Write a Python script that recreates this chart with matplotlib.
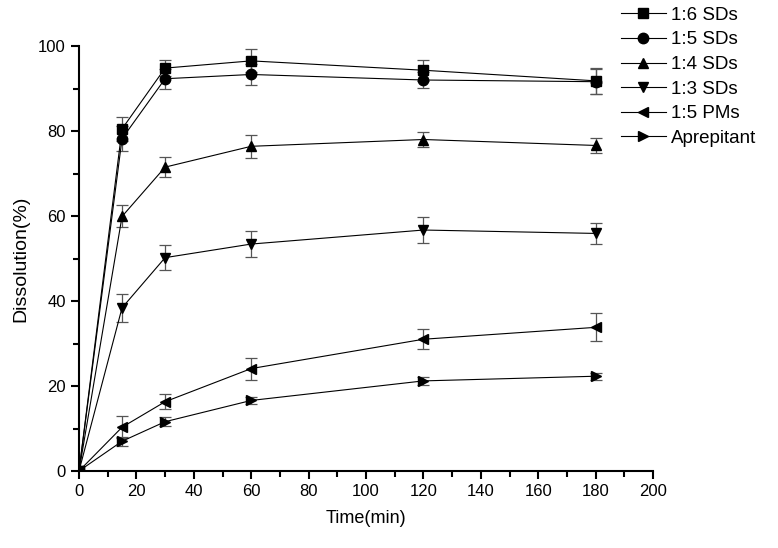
import matplotlib
matplotlib.use("Agg")
import matplotlib.pyplot as plt
from matplotlib.ticker import MultipleLocator

plt.rcParams['font.family'] = ['Liberation Sans', 'DejaVu Sans']

time = [0, 15, 30, 60, 120, 180]
labels = ["1:6 SDs", "1:5 SDs", "1:4 SDs", "1:3 SDs", "1:5 PMs", "Aprepitant"]
markers = ["s", "o", "^", "v", "<", ">"]

sd16 = [0, 80.5, 94.8, 96.5, 94.3, 91.8]
sd16_err = [0, 2.8, 1.8, 2.7, 2.5, 3.0]
sd15 = [0, 78.2, 92.3, 93.3, 92.0, 91.6]
sd15_err = [0, 3.0, 2.4, 2.4, 1.8, 3.0]
sd14 = [0, 59.9, 71.5, 76.4, 78.0, 76.6]
sd14_err = [0, 2.6, 2.4, 2.7, 1.8, 1.8]
sd13 = [0, 38.4, 50.2, 53.4, 56.7, 55.9]
sd13_err = [0, 3.3, 3.0, 3.0, 3.0, 2.4]
pm15 = [0, 10.3, 16.3, 24.1, 31.0, 33.8]
pm15_err = [0, 2.6, 1.8, 2.6, 2.4, 3.3]
apr = [0, 7.0, 11.6, 16.6, 21.2, 22.3]
apr_err = [0, 1.0, 1.0, 0.8, 1.0, 0.8]

series = [(sd16, sd16_err), (sd15, sd15_err), (sd14, sd14_err),
          (sd13, sd13_err), (pm15, pm15_err), (apr, apr_err)]

fig = plt.figure(figsize=(7.78, 5.48), dpi=100)
ax = fig.add_axes([79/778, 1-471/548, (653-79)/778, (471-46)/548])

handles = []
for (vals, errs), lab, mk in zip(series, labels, markers):
    ax.errorbar(time, vals, yerr=errs, fmt='none', ecolor='#555555',
                elinewidth=0.9, capsize=4, capthick=0.9, zorder=2)
    h, = ax.plot(time, vals, color='black', linewidth=0.8, marker=mk,
                 markersize=7.5, markerfacecolor='black', markeredgecolor='black',
                 label=lab, zorder=3)
    handles.append(h)

ax.set_xlim(0, 200)
ax.set_ylim(0, 100)
ax.xaxis.set_major_locator(MultipleLocator(20))
ax.xaxis.set_minor_locator(MultipleLocator(10))
ax.yaxis.set_major_locator(MultipleLocator(20))
ax.yaxis.set_minor_locator(MultipleLocator(10))
for s in ['top', 'right']:
    ax.spines[s].set_visible(False)
for s in ['left', 'bottom']:
    ax.spines[s].set_linewidth(1.5)
ax.tick_params(which='major', direction='out', length=6, width=1.5, labelsize=12)
ax.tick_params(which='minor', direction='out', length=4, width=1.5)
ax.set_xlabel("Time(min)", fontsize=13, labelpad=8)
ax.set_ylabel("Dissolution(%)", fontsize=14, labelpad=6)

fig.legend(handles=handles, loc='upper left', bbox_to_anchor=(617/778, 1-3/548),
           frameon=False, fontsize=13.5, handlelength=2.4, handletextpad=0.3,
           labelspacing=0.4, borderpad=0.2, borderaxespad=0, markerscale=1.0)

fig.savefig("out.png", dpi=100)
